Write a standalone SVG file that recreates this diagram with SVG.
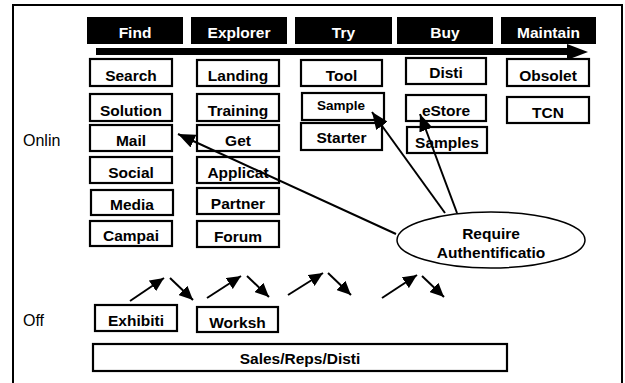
<svg xmlns="http://www.w3.org/2000/svg" width="625" height="383" viewBox="0 0 625 383">
  <style>
    .frame { fill: #fff; stroke: #000; stroke-width: 2; }
    .head rect { fill: #000; }
    .head text { fill: #fff; font: bold 15.5px "Liberation Sans", Arial, sans-serif; text-anchor: middle; }
    .box rect { fill: #fff; stroke: #000; stroke-width: 2.2; }
    .box text { fill: #000; font: bold 15.5px "Liberation Sans", Arial, sans-serif; text-anchor: middle; }
    .lbl { fill: #000; font: 16px "Liberation Sans", Arial, sans-serif; }
    .note { fill: #000; font: bold 15.5px "Liberation Sans", Arial, sans-serif; text-anchor: middle; }
    .conn { stroke: #000; stroke-width: 2; fill: none; }
  </style>
  <defs>
    <marker id="bigHead" markerUnits="userSpaceOnUse" markerWidth="18" markerHeight="14" refX="17" refY="7" orient="auto">
      <path d="M0,0 L17,7 L0,14 Z" fill="#000"/>
    </marker>
    <marker id="smallHead" markerUnits="userSpaceOnUse" markerWidth="15" markerHeight="13" refX="14" refY="6.5" orient="auto">
      <path d="M0,0 L14,6.5 L0,13 Z" fill="#000"/>
    </marker>
  </defs>

  <rect class="frame" x="13" y="5" width="609" height="390"/>

  <!-- phase headers -->
  <g id="hdr-find" class="head"><rect x="87" y="17" width="96" height="27"/><text x="135" y="38">Find</text></g>
  <g id="hdr-explorer" class="head"><rect x="191" y="17" width="96" height="27"/><text x="239" y="38">Explorer</text></g>
  <g id="hdr-try" class="head"><rect x="295" y="17" width="97" height="27"/><text x="343.5" y="38">Try</text></g>
  <g id="hdr-buy" class="head"><rect x="397" y="17" width="96" height="27"/><text x="445" y="38">Buy</text></g>
  <g id="hdr-maintain" class="head"><rect x="501" y="17" width="95" height="27"/><text x="548.5" y="38">Maintain</text></g>

  <!-- timeline arrow -->
  <g id="timeline">
    <rect x="96" y="48" width="472" height="7" fill="#000"/>
    <path d="M567,44 L588,52 L567,60 Z" fill="#000"/>
  </g>

  <!-- side labels -->
  <text class="lbl" x="23" y="146">Onlin</text>
  <text class="lbl" x="23" y="326">Off</text>

  <!-- Find column -->
  <g id="n-search" class="box"><rect x="90" y="59" width="82" height="27"/><text x="131" y="81">Search</text></g>
  <g id="n-solution" class="box"><rect x="90" y="94" width="82" height="27"/><text x="131" y="116">Solution</text></g>
  <g id="n-mail" class="box"><rect x="90" y="125" width="82" height="26"/><text x="131" y="146">Mail</text></g>
  <g id="n-social" class="box"><rect x="90" y="157" width="82" height="26"/><text x="131" y="178">Social</text></g>
  <g id="n-media" class="box"><rect x="91" y="190" width="82" height="25"/><text x="132" y="210">Media</text></g>
  <g id="n-campai" class="box"><rect x="90" y="221" width="82" height="25"/><text x="131" y="241">Campai</text></g>

  <!-- Explorer column -->
  <g id="n-landing" class="box"><rect x="197" y="60" width="82" height="26"/><text x="238" y="81">Landing</text></g>
  <g id="n-training" class="box"><rect x="197" y="94" width="82" height="27"/><text x="238" y="116">Training</text></g>
  <g id="n-get" class="box"><rect x="197" y="125" width="82" height="26"/><text x="238" y="146">Get</text></g>
  <g id="n-applicat" class="box"><rect x="197" y="157" width="82" height="26"/><text x="238" y="178">Applicat</text></g>
  <g id="n-partner" class="box"><rect x="197" y="188" width="82" height="26"/><text x="238" y="209">Partner</text></g>
  <g id="n-forum" class="box"><rect x="197" y="221" width="82" height="26"/><text x="238" y="242">Forum</text></g>

  <!-- Try column -->
  <g id="n-tool" class="box"><rect x="301" y="60" width="81" height="26"/><text x="341.5" y="81">Tool</text></g>
  <g id="n-sample" class="box"><rect x="302" y="93" width="82" height="27"/><text x="341" y="110" style="font-size:13.5px">Sample</text></g>
  <g id="n-starter" class="box"><rect x="301" y="123" width="81" height="27"/><text x="341.5" y="143">Starter</text></g>

  <!-- Buy column -->
  <g id="n-disti" class="box"><rect x="406" y="58" width="80" height="26"/><text x="446" y="78">Disti</text></g>
  <g id="n-estore" class="box"><rect x="406" y="95" width="80" height="26"/><text x="446" y="116">eStore</text></g>
  <g id="n-samples" class="box"><rect x="407" y="127" width="80" height="26"/><text x="447" y="148">Samples</text></g>

  <!-- Maintain column -->
  <g id="n-obsolet" class="box"><rect x="507" y="59" width="82" height="27"/><text x="548" y="81">Obsolet</text></g>
  <g id="n-tcn" class="box"><rect x="507" y="97" width="82" height="26"/><text x="548" y="118">TCN</text></g>

  <!-- authentication note -->
  <g id="n-auth">
    <ellipse cx="491" cy="240" rx="94" ry="28" fill="#fff" stroke="#000" stroke-width="1.5"/>
    <text class="note" x="491" y="239">Require</text>
    <text class="note" x="491" y="258">Authentificatio</text>
  </g>

  <!-- offline -->
  <g id="n-exhibiti" class="box"><rect x="95" y="305" width="82" height="26"/><text x="136" y="326">Exhibiti</text></g>
  <g id="n-worksh" class="box"><rect x="197" y="307" width="81" height="25"/><text x="237.5" y="328">Worksh</text></g>
  <g id="n-sales" class="box"><rect x="93" y="344" width="414" height="27"/><text x="300" y="364">Sales/Reps/Disti</text></g>

  <!-- connectors -->
  <g id="connectors" class="conn">
    <line x1="396" y1="234" x2="178" y2="134" marker-end="url(#bigHead)"/>
    <line x1="445" y1="213" x2="372" y2="112" marker-end="url(#bigHead)"/>
    <line x1="457" y1="213" x2="420" y2="114" marker-end="url(#bigHead)"/>

    <line x1="130" y1="301" x2="164" y2="278" marker-end="url(#smallHead)"/>
    <line x1="170" y1="278" x2="193" y2="300" marker-end="url(#smallHead)"/>
    <line x1="207" y1="298" x2="241" y2="276" marker-end="url(#smallHead)"/>
    <line x1="247" y1="276" x2="269" y2="297" marker-end="url(#smallHead)"/>
    <line x1="288" y1="295" x2="323" y2="273" marker-end="url(#smallHead)"/>
    <line x1="328" y1="273" x2="351" y2="295" marker-end="url(#smallHead)"/>
    <line x1="382" y1="298" x2="417" y2="275" marker-end="url(#smallHead)"/>
    <line x1="422" y1="276" x2="444" y2="297" marker-end="url(#smallHead)"/>
  </g>
</svg>
